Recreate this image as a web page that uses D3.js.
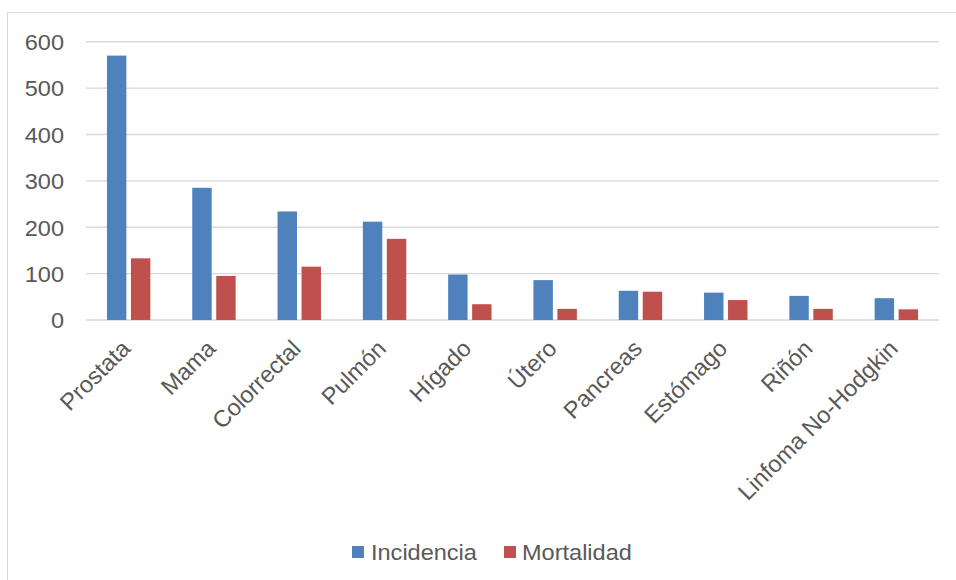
<!DOCTYPE html>
<html>
<head>
<meta charset="utf-8">
<script src="https://cdn.jsdelivr.net/npm/d3@7"></script>
<style>
  html, body { margin: 0; padding: 0; background: #fff; }
  svg { display: block; }
  text { font-family: "Liberation Sans", Arial, sans-serif; fill: #595959; }
</style>
</head>
<body>
<svg id="chart" width="956" height="580"></svg>
<script>
// Cancer incidence and mortality by site
const categories = ["Prostata", "Mama", "Colorrectal", "Pulmón", "Hígado", "Útero",
                    "Pancreas", "Estómago", "Riñón", "Linfoma No-Hodgkin"];
const incidencia = [570, 285, 234, 212, 98, 86, 63, 59, 52, 47];
const mortalidad = [133, 95, 115, 175, 34, 24, 61, 43, 24, 23];
const seriesNames = ["Incidencia", "Mortalidad"];
const seriesColors = ["#4F81BD", "#C0504D"];
const yTicks = [0, 100, 200, 300, 400, 500, 600];

const svg = d3.select("#chart");
const W = 956, H = 580;
const plot = { left: 86, right: 939, top: 41.7, bottom: 320 };
const fontSize = 22;
const stretch = 1.07; // horizontal text is drawn slightly wide
const catFontSize = 23.5;

// outer chart frame
svg.append("rect")
  .attr("x", 7.5).attr("y", 12.5)
  .attr("width", W).attr("height", H)
  .attr("fill", "none").attr("stroke", "#d9d9d9").attr("stroke-width", 1);

const x = d3.scaleBand()
  .domain(categories)
  .range([plot.left, plot.right])
  .paddingInner(0.491)
  .paddingOuter(0.2455);

const xs = d3.scaleBand()
  .domain(seriesNames)
  .range([0, x.bandwidth()])
  .paddingInner(0.19);

const y = d3.scaleLinear().domain([0, 600]).range([plot.bottom, plot.top]);

// gridlines
svg.append("g")
  .selectAll("line")
  .data(yTicks)
  .join("line")
  .attr("x1", plot.left).attr("x2", plot.right)
  .attr("y1", d => y(d)).attr("y2", d => y(d))
  .attr("stroke", "#d9d9d9").attr("stroke-width", 1.4);

// y tick labels
svg.append("g")
  .selectAll("text")
  .data(yTicks)
  .join("text")
  .attr("transform", d => `translate(64,${y(d)}) scale(${stretch},1)`)
  .attr("dy", "0.38em")
  .attr("text-anchor", "end")
  .style("font-size", fontSize + "px")
  .text(d => d);

// bars
const rows = categories.map((c, i) => ({ cat: c, values: [incidencia[i], mortalidad[i]] }));
const groups = svg.append("g")
  .selectAll("g")
  .data(rows)
  .join("g")
  .attr("transform", d => `translate(${x(d.cat)},0)`);

groups.selectAll("rect")
  .data(d => d.values.map((v, j) => ({ key: seriesNames[j], value: v, color: seriesColors[j] })))
  .join("rect")
  .attr("x", d => xs(d.key))
  .attr("width", xs.bandwidth())
  .attr("y", d => y(d.value))
  .attr("height", d => y(0) - y(d.value))
  .attr("fill", d => d.color);

// rotated category labels
svg.append("g")
  .selectAll("text")
  .data(categories)
  .join("text")
  .attr("transform", d => `translate(${x(d) + x.bandwidth() / 2 + 3},350) rotate(-45)`)
  .attr("text-anchor", "end")
  .style("font-size", catFontSize + "px")
  .text(d => d);

// legend
const legendItems = [
  { name: seriesNames[0], color: seriesColors[0], sx: 352, tx: 371 },
  { name: seriesNames[1], color: seriesColors[1], sx: 504, tx: 522 }
];
const lg = svg.append("g");
lg.selectAll("rect")
  .data(legendItems)
  .join("rect")
  .attr("x", d => d.sx).attr("y", 546)
  .attr("width", 12).attr("height", 12)
  .attr("fill", d => d.color);
lg.selectAll("text")
  .data(legendItems)
  .join("text")
  .attr("transform", d => `translate(${d.tx},560) scale(${stretch},1)`)
  .style("font-size", fontSize + "px")
  .text(d => d.name);
</script>
</body>
</html>
